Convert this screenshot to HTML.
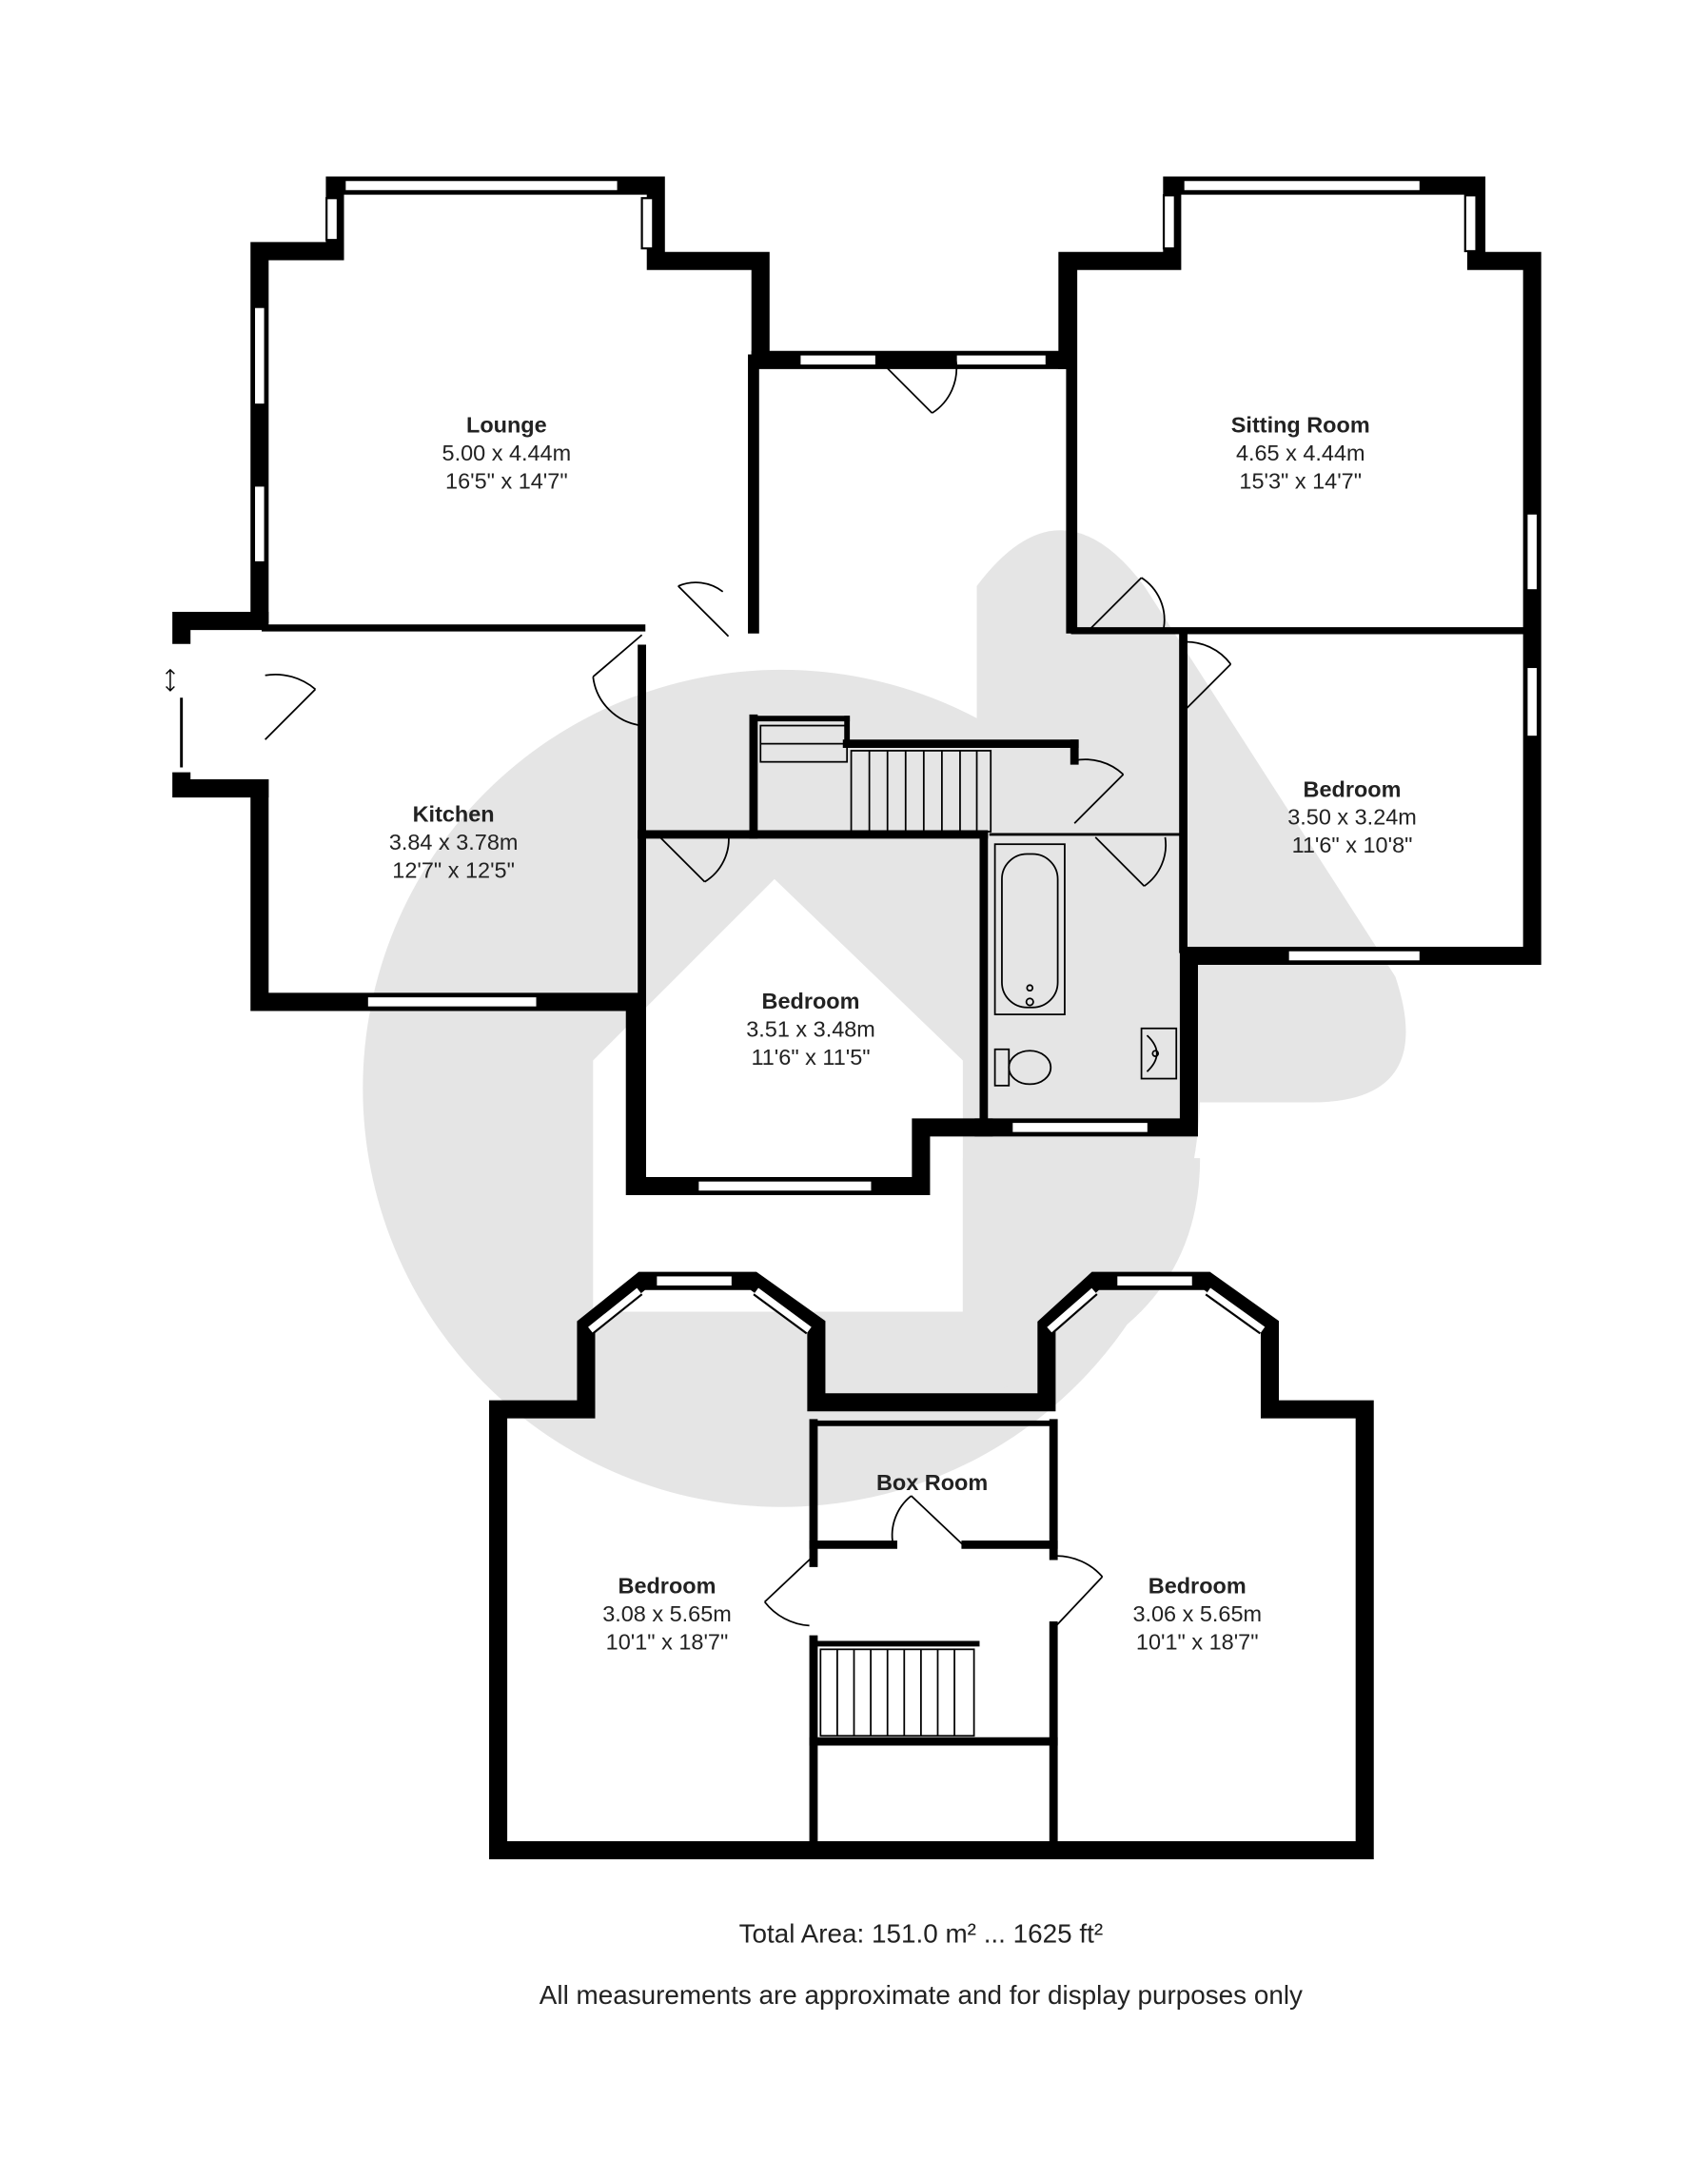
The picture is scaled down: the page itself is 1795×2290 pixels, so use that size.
<!DOCTYPE html>
<html><head><meta charset="utf-8"><style>
html,body{margin:0;padding:0;background:#fff}
svg{display:block}
text{font-family:"Liberation Sans",Arial,sans-serif;fill:#222;text-anchor:middle}
.b{font-weight:bold;font-size:16px}
.n{font-size:16px}
</style></head><body>
<svg width="1795" height="2290" viewBox="0 0 1224 1561.6" xmlns="http://www.w3.org/2000/svg">
<g fill="#e5e5e5">
<circle cx="560" cy="780" r="300"/>
<path d="M700 420 Q760 340 820 420 L1000 700 Q1030 790 940 790 L700 790 Z"/>
</g>
<path d="M425 760 L555 630 L690 760 L690 940 L425 940 Z" fill="#fff"/>
<path d="M690 830 L860 830 Q860 960 700 1000 L690 940 Z" fill="#e5e5e5"/>
<g fill="none" stroke="#000" stroke-width="13" stroke-linejoin="miter" stroke-linecap="square">
<polyline points="186,440 186,180 240,180 240,133 470,133 470,187 545,187 545,255"/>
<polyline points="545,258 765,258"/>
<polyline points="765,258 765,187 840,187 840,133 1058,133 1058,187 1098,187 1098,685 852,685 852,808 705,808"/>
<polyline points="705,808 660,808 660,850 455,850 455,720"/>
<polyline points="455,718 186,718 186,565"/>
<polyline points="130,455 130,445 186,445"/>
<polyline points="130,560 130,565 186,565"/>
<polyline points="420,1010 420,950 460,918 540,918 585,950 585,1005 750,1005 750,950 785,918 865,918 910,950 910,1010 978,1010 978,1326 357,1326 357,1010 420,1010"/>
</g>
<g fill="none" stroke="#000" stroke-linecap="square">
<line x1="190" y1="450" x2="460" y2="450" stroke-width="5"/>
<line x1="540" y1="258" x2="540" y2="450" stroke-width="8"/>
<line x1="768" y1="190" x2="768" y2="450" stroke-width="8"/>
<line x1="770" y1="452" x2="1095" y2="452" stroke-width="5"/>
<line x1="848" y1="455" x2="848" y2="680" stroke-width="6"/>
<line x1="460" y1="465" x2="460" y2="845" stroke-width="6"/>
<line x1="460" y1="598" x2="705" y2="598" stroke-width="6"/>
<line x1="705" y1="598" x2="705" y2="805" stroke-width="6"/>
<line x1="540" y1="515" x2="540" y2="598" stroke-width="6"/>
<line x1="540" y1="515" x2="607" y2="515" stroke-width="4"/>
<line x1="607" y1="515" x2="607" y2="533" stroke-width="4"/>
<line x1="607" y1="533" x2="770" y2="533" stroke-width="6"/>
<line x1="770" y1="533" x2="770" y2="545" stroke-width="6"/>
<line x1="710" y1="598" x2="848" y2="598" stroke-width="2"/>
<line x1="583" y1="1020" x2="583" y2="1120" stroke-width="6"/>
<line x1="583" y1="1175" x2="583" y2="1320" stroke-width="6"/>
<line x1="755" y1="1020" x2="755" y2="1115" stroke-width="6"/>
<line x1="755" y1="1165" x2="755" y2="1320" stroke-width="6"/>
<line x1="583" y1="1020" x2="755" y2="1020" stroke-width="4"/>
<line x1="583" y1="1107" x2="640" y2="1107" stroke-width="6"/>
<line x1="692" y1="1107" x2="755" y2="1107" stroke-width="6"/>
<line x1="583" y1="1178" x2="700" y2="1178" stroke-width="4"/>
<line x1="583" y1="1248" x2="755" y2="1248" stroke-width="6"/>
</g>
<g fill="#fff" stroke="#000" stroke-width="1.5">
<rect x="247" y="129" width="196" height="8"/>
<rect x="234" y="142" width="8" height="30"/><rect x="460" y="142" width="8" height="36"/>
<rect x="182" y="220" width="8" height="70"/><rect x="182" y="348" width="8" height="55"/>
<rect x="573" y="254" width="55" height="8"/><rect x="685" y="254" width="65" height="8"/>
<rect x="848" y="129" width="170" height="8"/>
<rect x="834" y="140" width="8" height="38"/><rect x="1050" y="140" width="8" height="40"/>
<rect x="1094" y="368" width="8" height="55"/><rect x="1094" y="478" width="8" height="50"/>
<rect x="923" y="681" width="95" height="8"/>
<rect x="263" y="714" width="122" height="8"/>
<rect x="500" y="846" width="125" height="8"/>
<rect x="725" y="804" width="98" height="8"/>
<rect x="470" y="914" width="55" height="8"/><rect x="800" y="914" width="55" height="8"/>
<rect x="126" y="475" width="8" height="70" stroke="none"/>
</g>
<g stroke="#000" stroke-width="1.2" fill="none">
<line x1="423" y1="953" x2="458" y2="925" stroke-width="8"/>
<line x1="423" y1="953" x2="458" y2="925" stroke="#fff" stroke-width="5"/>
<line x1="542" y1="925" x2="580" y2="953" stroke-width="8"/>
<line x1="542" y1="925" x2="580" y2="953" stroke="#fff" stroke-width="5"/>
<line x1="752" y1="953" x2="784" y2="925" stroke-width="8"/>
<line x1="752" y1="953" x2="784" y2="925" stroke="#fff" stroke-width="5"/>
<line x1="866" y1="925" x2="905" y2="953" stroke-width="8"/>
<line x1="866" y1="925" x2="905" y2="953" stroke="#fff" stroke-width="5"/>
<path d="M630 258 L668 296 M668 296 A38 38 0 0 0 685 258"/>
<path d="M486 420 L522 456 M486 420 A32 32 0 0 1 518 424"/>
<path d="M190 530 L226 494 M190 484 A44 44 0 0 1 226 494"/>
<path d="M425 485 L460 455 M425 485 A40 40 0 0 0 460 520"/>
<path d="M470 597 L505 632 M505 632 A36 36 0 0 0 522 597"/>
<path d="M782 450 L818 414 M818 414 A36 36 0 0 1 834 450"/>
<path d="M848 510 L882 476 M848 460 A40 40 0 0 1 882 476"/>
<path d="M770 590 L805 555 M770 545 A40 40 0 0 1 805 555"/>
<path d="M785 600 L820 635 M820 635 A36 36 0 0 0 835 600"/>
<path d="M653 1072 L690 1107 M653 1072 A36 36 0 0 0 640 1107"/>
<path d="M548 1148 L583 1115 M548 1148 A44 44 0 0 0 580 1165"/>
<path d="M790 1130 L757 1165 M790 1130 A44 44 0 0 0 757 1115"/>
<path d="M122 480 L122 495 M119 483 L122 480 L125 483 M119 492 L122 495 L125 492" stroke-width="1"/>
<line x1="130" y1="500" x2="130" y2="550" stroke-width="2"/>
<rect x="610" y="538" width="100" height="58"/>
<path d="M623 538V596M636 538V596M649 538V596M662 538V596M675 538V596M688 538V596M700 538V596"/>
<rect x="545" y="520" width="62" height="26"/>
<path d="M545 533H607"/>
<rect x="588" y="1182" width="110" height="62"/>
<path d="M600 1182V1244M612 1182V1244M624 1182V1244M636 1182V1244M648 1182V1244M660 1182V1244M672 1182V1244M684 1182V1244"/>
<rect x="713" y="605" width="50" height="122"/>
<rect x="718" y="612" width="40" height="110" rx="18"/>
<circle cx="738" cy="718" r="2.5"/><circle cx="738" cy="708" r="2"/>
<rect x="713" y="752" width="10" height="26"/>
<ellipse cx="738" cy="765" rx="15" ry="12"/>
<rect x="818" y="737" width="25" height="36"/>
<path d="M822 742 Q836 755 822 768"/>
<circle cx="828" cy="755" r="2"/>
</g>
<text x="363" y="310" class="b">Lounge</text>
<text x="363" y="330" class="n">5.00 x 4.44m</text>
<text x="363" y="350" class="n">16'5" x 14'7"</text>
<text x="932" y="310" class="b">Sitting Room</text>
<text x="932" y="330" class="n">4.65 x 4.44m</text>
<text x="932" y="350" class="n">15'3" x 14'7"</text>
<text x="325" y="589" class="b">Kitchen</text>
<text x="325" y="609" class="n">3.84 x 3.78m</text>
<text x="325" y="629" class="n">12'7" x 12'5"</text>
<text x="969" y="571" class="b">Bedroom</text>
<text x="969" y="591" class="n">3.50 x 3.24m</text>
<text x="969" y="611" class="n">11'6" x 10'8"</text>
<text x="581" y="723" class="b">Bedroom</text>
<text x="581" y="743" class="n">3.51 x 3.48m</text>
<text x="581" y="763" class="n">11'6" x 11'5"</text>
<text x="668" y="1068" class="b">Box Room</text>
<text x="478" y="1142" class="b">Bedroom</text>
<text x="478" y="1162" class="n">3.08 x 5.65m</text>
<text x="478" y="1182" class="n">10'1" x 18'7"</text>
<text x="858" y="1142" class="b">Bedroom</text>
<text x="858" y="1162" class="n">3.06 x 5.65m</text>
<text x="858" y="1182" class="n">10'1" x 18'7"</text>
<text x="660" y="1392" style="font-size:19px">Total Area: 151.0 m² ... 1625 ft²</text>
<text x="660" y="1436" style="font-size:19px">All measurements are approximate and for display purposes only</text>
</svg>
</body></html>
